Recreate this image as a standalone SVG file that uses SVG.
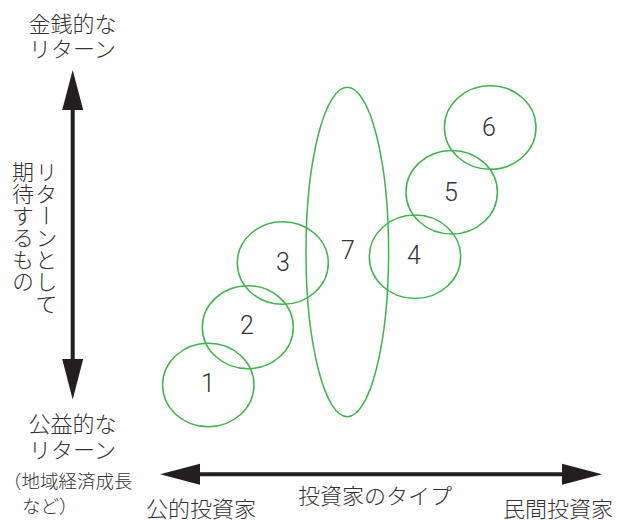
<svg xmlns="http://www.w3.org/2000/svg" width="617" height="520" viewBox="0 0 617 520">
<style>
.jp{font-family:"Noto Sans CJK JP","Noto Sans",sans-serif;font-size:22px;fill:#333;font-weight:300}
.sm{font-size:18.5px}
.num{font-family:Roboto,"Liberation Sans",sans-serif;font-size:25px;fill:#333;font-weight:300;text-anchor:middle}
.ov{fill:none;stroke:#3db54a;stroke-width:1.5}
.ax{stroke:#231f20;stroke-width:4;fill:none}
.hd{fill:#231f20}
.vt{writing-mode:vertical-rl}
</style>
<rect width="617" height="520" fill="#fff"/>
<g id="connectors">
<line class="ax" x1="72.7" y1="105" x2="72.7" y2="362"/>
<polygon class="hd" points="72.7,70 62.2,110 83.2,110"/>
<polygon class="hd" points="72.7,399.5 62.2,359 83.2,359"/>
<line class="ax" x1="195" y1="474.3" x2="566" y2="474.3"/>
<polygon class="hd" points="160,474.3 200,463.8 200,484.8"/>
<polygon class="hd" points="602,474.3 562,463.8 562,484.8"/>
</g>
<g id="labels">
<text class="jp" x="72.5" y="32" text-anchor="middle">金銭的な</text>
<text class="jp" x="72.5" y="57" text-anchor="middle">リターン</text>
<text class="jp vt" x="46.5" y="161">リターンとして</text>
<text class="jp vt" x="23" y="161">期待するもの</text>
<text class="jp" x="72.5" y="432" text-anchor="middle">公益的な</text>
<text class="jp" x="72.5" y="458" text-anchor="middle">リターン</text>
<text class="jp sm" x="3" y="488">（地域経済成長</text>
<text class="jp sm" x="22" y="513">など）</text>
<text class="jp" x="375" y="504" text-anchor="middle">投資家のタイプ</text>
<text class="jp" x="201" y="517" text-anchor="middle">公的投資家</text>
<text class="jp" x="558" y="517" text-anchor="middle">民間投資家</text>
</g>
<g id="node7"><ellipse class="ov" cx="347.3" cy="252" rx="41.3" ry="164.7"/><text class="num" x="348" y="259">7</text></g>
<g id="node1"><ellipse class="ov" cx="208.3" cy="385" rx="45.7" ry="41.7"/><text class="num" x="208" y="392">1</text></g>
<g id="node2"><ellipse class="ov" cx="247.8" cy="327.2" rx="45.5" ry="41.5"/><text class="num" x="247" y="334">2</text></g>
<g id="node3"><ellipse class="ov" cx="282.8" cy="263" rx="45.5" ry="41.3"/><text class="num" x="283" y="271">3</text></g>
<g id="node4"><ellipse class="ov" cx="415" cy="256.7" rx="45.7" ry="41.7"/><text class="num" x="414" y="264">4</text></g>
<g id="node5"><ellipse class="ov" cx="451.7" cy="192.2" rx="45.7" ry="41.8"/><text class="num" x="451" y="201">5</text></g>
<g id="node6"><ellipse class="ov" cx="490.2" cy="127.5" rx="45.8" ry="41.8"/><text class="num" x="489" y="136">6</text></g>
</svg>
